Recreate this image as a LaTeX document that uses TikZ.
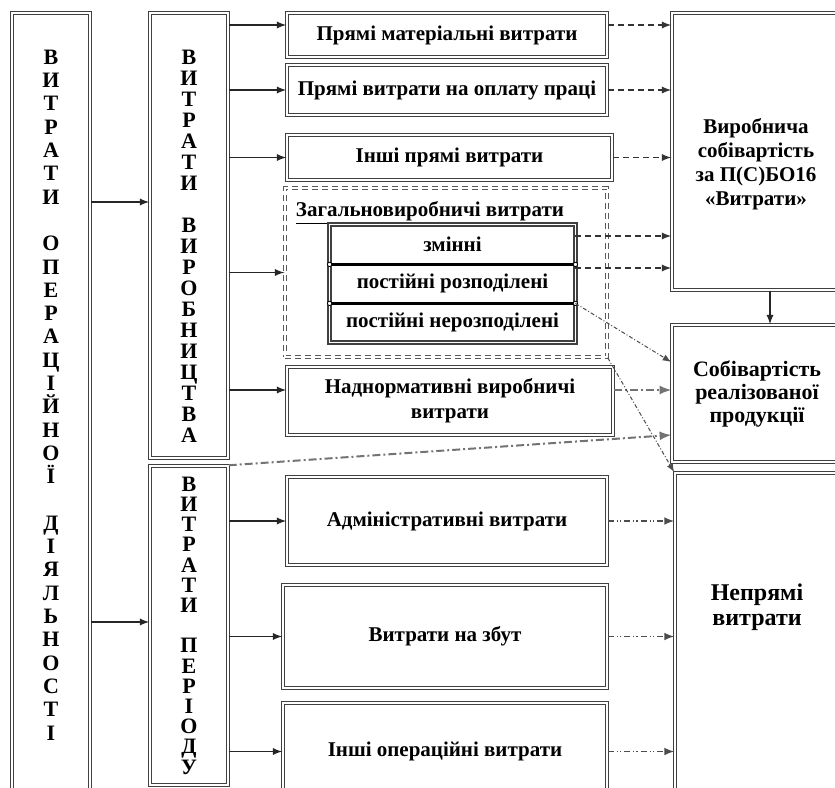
\documentclass[tikz,border=0pt]{standalone}
\usepackage{fontspec}
\setmainfont{Liberation Serif}
\usetikzlibrary{arrows}
\usetikzlibrary{calc}

\tikzset{
  dline/.style={draw=black!75, double=white, double distance=0.7pt, line width=0.75pt},
  dbox/.style={dline, rectangle, inner sep=1pt, align=center, font=\fontsize{10.5}{12.5}\selectfont\bfseries},
  gbox/.style={draw=black!65, double=white, double distance=0.6pt, line width=0.7pt, dash pattern=on 3pt off 2pt, rectangle, inner sep=0pt},
  cell/.style={rectangle, inner sep=0pt, minimum width=122.5pt, minimum height=19.5pt, font=\fontsize{10.5}{12.5}\selectfont\bfseries},
  vlet/.style={inner sep=0pt, align=center, font=\fontsize{11}{#1}\selectfont\bfseries},
  txt/.style={inner sep=0pt, align=center, font=\fontsize{10.5}{12}\selectfont\bfseries},
  arr/.style={->, draw=black!85, line width=0.65pt},
  darr/.style={->, draw=black!80, line width=0.65pt, dash pattern=on 3pt off 2pt},
  ddarr/.style={->, draw=black!70, line width=0.5pt, dash pattern=on 2pt off 1pt on 0.5pt off 1pt},
  gdarr/.style={->, draw=black!55, line width=1pt, dash pattern=on 4pt off 1.5pt on 1pt off 1.5pt},
  dddarr/.style={->, draw=black!70, line width=0.7pt, dash pattern=on 3pt off 1.5pt on 0.6pt off 1pt on 0.6pt off 1.5pt}
}

\begin{document}
\begin{tikzpicture}[x=0.5pt, y=-0.5pt, >=latex]
\useasboundingbox (0,0) rectangle (835,787);
\coordinate (h1) at (0,25);
\coordinate (h2) at (0,202);
\coordinate (h3) at (0,236);
\coordinate (h4) at (0,268);
\coordinate (h5) at (0,362);
\coordinate (h6) at (0,390);
\coordinate (h7) at (0,435);
\coordinate (h8) at (0,622);
\coordinate (v1) at (770,0);

% operating costs column
\node[dbox, minimum width=39pt, minimum height=394pt] (opd) at (51,407) {};
\node[vlet=11.65pt] (opdtxt) at (51,395) {В\\И\\Т\\Р\\А\\Т\\И\\[11.65pt]О\\П\\Е\\Р\\А\\Ц\\І\\Й\\Н\\О\\Ї\\[11.65pt]Д\\І\\Я\\Л\\Ь\\Н\\О\\С\\Т\\І};

% production / period costs
\node[dbox, minimum width=39pt, minimum height=222.5pt] (vv) at (189,235.5) {};
\node[vlet=10.5pt] (vvtxt) at (189,246) {В\\И\\Т\\Р\\А\\Т\\И\\[10.5pt]В\\И\\Р\\О\\Б\\Н\\И\\Ц\\Т\\В\\А};
\node[dbox, minimum width=39pt, minimum height=159.5pt, vlet=10.1pt] (vp) at (189,625.5) {В\\И\\Т\\Р\\А\\Т\\И\\[10.1pt]П\\Е\\Р\\І\\О\\Д\\У};

% cost items
\node[dbox, minimum width=160pt, minimum height=22pt] (pmv) at (447,35) {Прямі матеріальні витрати};
\node[dbox, minimum width=160pt, minimum height=25pt] (pvo) at (447,90) {Прямі витрати на оплату праці};
\node[dbox, minimum width=162.5pt, minimum height=22.5pt] (ipv) at (449.5,157.5) {Інші прямі витрати};
\node[gbox, minimum width=161pt, minimum height=84.5pt] (zag) at (446,272.5) {};
\node[txt] (zagtxt) at (430,213) {\underline{Загальновиробничі витрати}};
\node[cell] (zm) at (452.5,244.5) {змінні};
\node[cell] (pr) at (452.5,283.5) {постійні розподілені};
\node[cell] (pn) at (452.5,322.5) {постійні нерозподілені};
\draw[dline] (zm.north west) rectangle (pn.south east);
\draw[line width=1.6pt] (zm.south west) -- (zm.south east);
\draw[line width=1.6pt] (pr.south west) -- (pr.south east);
\foreach \c in {zm.south west, zm.south east, pr.south west, pr.south east}
  \draw[line width=0.4pt, fill=white] (\c) circle (1.1pt);
\node[dbox, minimum width=163pt, minimum height=34pt] (nadn) at (450,401) {Наднормативні виробничі\\витрати};
\node[dbox, minimum width=160pt, minimum height=44pt] (adm) at (447,521) {Адміністративні витрати};
\node[dbox, minimum width=162pt, minimum height=51.5pt] (zbut) at (445,636.5) {Витрати на збут};
\node[dbox, minimum width=162pt, minimum height=48.5pt] (ioper) at (445,751.5) {Інші операційні витрати};

% results
\node[dbox, minimum width=85pt, minimum height=138.5pt] (vsob) at (757,151.5) {};
\node[txt] (vsobtxt) at (756,164) {Виробнича\\собівартість\\за П(С)БО16\\«Витрати»};
\node[dbox, minimum width=85pt, minimum height=68.5pt, font=\fontsize{11}{11.5}\selectfont\bfseries] (srp) at (757,393.5) {Собівартість\\реалізованої\\продукції};
\node[dbox, minimum width=83.5pt, minimum height=163.5pt] (nepr) at (758.5,636.5) {};
\node[txt, font=\fontsize{12}{12.5}\selectfont\bfseries] (neprtxt) at (757,607) {Непрямі\\витрати};

% solid arrows
\draw[arr] (opd.east |- h2) -- (vv.west |- h2);
\draw[arr] (opd.east |- h8) -- (vp.west |- h8);
\draw[arr] (vv.east |- h1) -- (pmv.west |- h1);
\draw[arr] (vv.east |- pvo.west) -- (pvo.west);
\draw[arr] (vv.east |- ipv.west) -- (ipv.west);
\draw[arr] (vv.east |- zag.west) -- (zag.west);
\draw[arr] (vv.east |- h6) -- (nadn.west |- h6);
\draw[arr] (vp.east |- adm.west) -- (adm.west);
\draw[arr] (vp.east |- zbut.west) -- (zbut.west);
\draw[arr] (vp.east |- ioper.west) -- (ioper.west);
\draw[arr] (vsob.south -| v1) -- (srp.north -| v1);

% into production cost
\draw[darr] (pmv.east |- h1) -- (vsob.west |- h1);
\draw[darr] (pvo.east) -- (vsob.west |- pvo.east);
\draw[darr] (ipv.east) -- (vsob.west |- ipv.east);
\draw[darr] (zm.east |- h3) -- (vsob.west |- h3);
\draw[darr] (pr.east |- h4) -- (vsob.west |- h4);

% into cost of sales / indirect
\draw[ddarr] (pr.south east) -- (srp.west |- h5);
\draw[gdarr] (nadn.east |- h6) -- (srp.west |- h6);
\draw[gdarr] (vp.north east) -- (srp.west |- h7);
\draw[ddarr] (zag.south east) -- (nepr.north west);
\draw[dddarr] (adm.east) -- (nepr.west |- adm.east);
\draw[dddarr] (zbut.east) -- (nepr.west |- zbut.east);
\draw[dddarr] (ioper.east) -- (nepr.west |- ioper.east);
\end{tikzpicture}
\end{document}
